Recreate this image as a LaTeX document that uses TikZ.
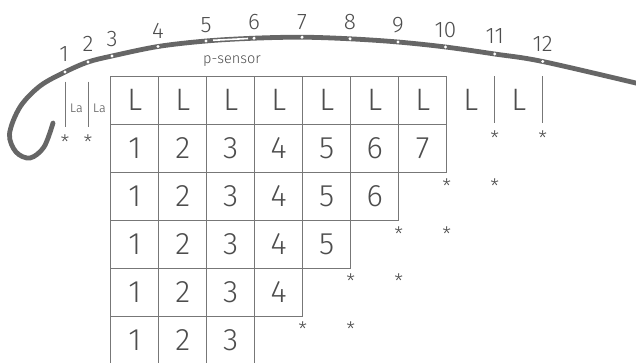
\documentclass[tikz,border=0pt]{standalone}
\usepackage{fontspec}
\setmainfont{Fira Sans}[UprightFont={* Light}]
\usetikzlibrary{positioning}
\definecolor{txt}{HTML}{4d4d4d}
\definecolor{ln}{HTML}{777777}
\definecolor{crv}{HTML}{666666}
\tikzset{
  cell/.style={draw=ln, line width=0.9pt, minimum size=48pt, inner sep=0pt, text=txt,
    font=\fontsize{31}{31}\selectfont},
  big/.style={inner sep=0pt, text=txt, font=\fontsize{31}{31}\selectfont},
  numlbl/.style={inner sep=0pt, text=txt, font=\fontsize{22.5}{22.5}\selectfont},
  small/.style={inner sep=0pt, text=txt, font=\fontsize{12.5}{12.5}\selectfont},
  sens/.style={inner sep=0pt, text=txt, font=\fontsize{14.5}{14.5}\selectfont},
  star/.style={inner sep=0pt, text=txt, font=\fontsize{20}{20}\selectfont, anchor=base},
  vline/.style={draw=ln, line width=0.9pt},
  dot/.style={circle, fill=white, inner sep=0pt, minimum size=3.4pt},
}
\begin{document}
\begin{tikzpicture}[x=1pt,y=-1pt]
\useasboundingbox (0,0) rectangle (636,362);
% curve points
\coordinate (p1) at (65,72);
\coordinate (p2) at (88,62);
\coordinate (p3) at (112,56);
\coordinate (p4) at (158,46.5);
\coordinate (p5) at (206,41);
\coordinate (p6) at (254,38.2);
\coordinate (p7) at (302,37.2);
\coordinate (p8) at (350,38.8);
\coordinate (p9) at (398,42);
\coordinate (p10) at (445.5,47);
\coordinate (p11) at (494.7,54);
\coordinate (p12) at (542.7,61.5);
\draw[crv, line width=4.8pt, line cap=round] plot[smooth, tension=0.55] coordinates
  {(53,123) (44,147) (30,158) (16,152) (9.5,134) (20,107) (40,86) (65,72) (88,62) (112,56) (158,46.5) (206,41) (254,38.2) (302,37.2) (350,38.8) (398,42) (445.5,47) (494.7,54) (542.7,61.5) (640,84)};
% p-sensor segment
\coordinate (s1) at (213,40.3);
\coordinate (s2) at (248,38.5);
\draw[white, line width=1.6pt] (s1) -- (s2);
\foreach \i in {1,...,12} {
  \node[dot] (d\i) at (p\i) {};
}
% curve labels
\node[numlbl, above=10pt of p1, xshift=-1pt] (l1) {1};
\node[numlbl, above=10pt of p2] (l2) {2};
\node[numlbl, above=9pt of p3] (l3) {3};
\node[numlbl, above=7.5pt of p4] (l4) {4};
\node[numlbl, above=8pt of p5] (l5) {5};
\node[numlbl, above=8pt of p6] (l6) {6};
\node[numlbl, above=7.5pt of p7] (l7) {7};
\node[numlbl, above=8.5pt of p8] (l8) {8};
\node[numlbl, above=9pt of p9] (l9) {9};
\node[numlbl, above=9.5pt of p10] (l10) {10};
\node[numlbl, above=10pt of p11] (l11) {11};
\node[numlbl, above=10pt of p12] (l12) {12};
\node[sens] (ps) at (232,61) {p-sensor};
% grid
\foreach \r/\n in {2/7,3/6,4/5,5/4,6/3} {
  \foreach \c in {1,...,\n} {
    \node[cell] (c\r-\c) at ({134.7+48*(\c-1)},{100+48*(\r-1)}) {\c};
  }
}
\foreach \c in {1,...,7} {
  \node[cell] (c1-\c) at ({134.7+48*(\c-1)},100) {L};
}
\node[big] (x8) at (470.7,100) {L};
\node[big] (x9) at (518.7,100) {L};
% vertical lines with stars
\coordinate (va1) at (65,81.5);
\coordinate (vb1) at (65,126.5);
\coordinate (va2) at (88,81.5);
\coordinate (vb2) at (88,126.5);
\coordinate (va3) at (494.7,76);
\coordinate (vb3) at (494.7,123);
\coordinate (va4) at (542.7,76);
\coordinate (vb4) at (542.7,123);
\foreach \i in {1,...,4} { \draw[vline] (va\i) -- (vb\i); }
\node[small] (la1) at (76.5,108) {La};
\node[small] (la2) at (99.5,108) {La};
% stars
\node[star] (s-a) at (65,149) {*};
\node[star] (s-b) at (88,149) {*};
\node[star] (s-c) at (494.7,145) {*};
\node[star] (s-d) at (542.7,145) {*};
\node[star] (s-e) at (446.7,193) {*};
\node[star] (s-f) at (494.7,193) {*};
\node[star] (s-g) at (398.7,241) {*};
\node[star] (s-h) at (446.7,241) {*};
\node[star] (s-i) at (350.7,288) {*};
\node[star] (s-j) at (398.7,288) {*};
\node[star] (s-k) at (302.7,336) {*};
\node[star] (s-l) at (350.7,336) {*};
\end{tikzpicture}
\end{document}
